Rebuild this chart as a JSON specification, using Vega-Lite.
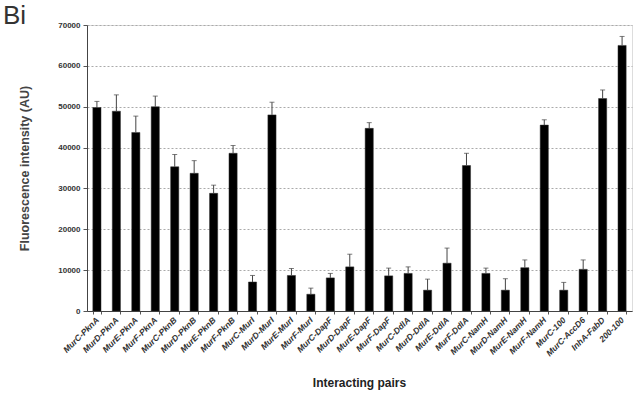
{
  "$schema": "https://vega.github.io/schema/vega-lite/v6.json",
  "autosize": {"type": "none"},
  "padding": {"left": 87, "top": 25, "right": 2, "bottom": 89},
  "width": 545,
  "height": 286,
  "background": "white",
  "title": {"text": "Bi", "anchor": "start", "frame": "group", "dx": -84, "dy": 34, "offset": 0, "fontSize": 26, "font": "Liberation Sans", "fontWeight": "normal", "color": "#333", "baseline": "bottom"},
  "data": {"values": [
    {"pair": "MurC-PknA", "value": 49800, "upper": 51300},
    {"pair": "MurD-PknA", "value": 48900, "upper": 52900},
    {"pair": "MurE-PknA", "value": 43700, "upper": 47700},
    {"pair": "MurF-PknA", "value": 50000, "upper": 52600},
    {"pair": "MurC-PknB", "value": 35300, "upper": 38300},
    {"pair": "MurD-PknB", "value": 33700, "upper": 36800},
    {"pair": "MurE-PknB", "value": 28800, "upper": 30800},
    {"pair": "MurF-PknB", "value": 38600, "upper": 40500},
    {"pair": "MurC-MurI", "value": 7100, "upper": 8700},
    {"pair": "MurD-MurI", "value": 48000, "upper": 51100},
    {"pair": "MurE-MurI", "value": 8700, "upper": 10400},
    {"pair": "MurF-MurI", "value": 4100, "upper": 5600},
    {"pair": "MurC-DapF", "value": 8100, "upper": 9200},
    {"pair": "MurD-DapF", "value": 10800, "upper": 13900},
    {"pair": "MurE-DapF", "value": 44700, "upper": 46100},
    {"pair": "MurF-DapF", "value": 8600, "upper": 10500},
    {"pair": "MurC-DdlA", "value": 9200, "upper": 10800},
    {"pair": "MurD-DdlA", "value": 5100, "upper": 7800},
    {"pair": "MurE-DdlA", "value": 11700, "upper": 15400},
    {"pair": "MurF-DdlA", "value": 35600, "upper": 38600},
    {"pair": "MurC-NamH", "value": 9200, "upper": 10500},
    {"pair": "MurD-NamH", "value": 5100, "upper": 7900},
    {"pair": "MurE-NamH", "value": 10600, "upper": 12500},
    {"pair": "MurF-NamH", "value": 45500, "upper": 46800},
    {"pair": "MurC-100", "value": 5100, "upper": 7000},
    {"pair": "MurC-AccD6", "value": 10200, "upper": 12500},
    {"pair": "InhA-FabD", "value": 52000, "upper": 54100},
    {"pair": "200-100", "value": 65000, "upper": 67200}
  ]},
  "encoding": {
    "x": {
      "field": "pair", "type": "nominal", "sort": null,
      "scale": {"paddingInner": 0.58, "paddingOuter": 0.3},
      "axis": {
        "title": "Interacting pairs", "titleFont": "Liberation Sans", "titleFontSize": 12, "titleFontWeight": "bold", "titleColor": "#222",
        "titleX": 272, "titleY": 66,
        "labelAngle": -45, "labelAlign": "right", "labelBaseline": "middle", "labelFont": "Liberation Sans", "labelFontSize": 8.5, "labelFontWeight": "bold", "labelFontStyle": "italic", "labelColor": "#333", "labelPadding": 4,
        "tickBand": "extent", "tickSize": 3, "tickColor": "#555", "domainColor": "#444", "grid": false
      }
    }
  },
  "layer": [
    {
      "mark": {"type": "bar", "color": "black", "stroke": "#333", "strokeWidth": 0.5},
      "encoding": {
        "y": {
          "field": "value", "type": "quantitative",
          "scale": {"domain": [0, 70000]},
          "axis": {
            "title": "Fluorescence intensity (AU)", "titleFont": "Liberation Sans", "titleFontSize": 12.5, "titleFontWeight": "bold", "titleColor": "#444",
            "titleX": -56, "titleY": 143,
            "values": [0, 10000, 20000, 30000, 40000, 50000, 60000, 70000], "format": "d",
            "labelFont": "Liberation Sans", "labelFontSize": 8, "labelFontWeight": "bold", "labelColor": "#333", "labelPadding": 3,
            "tickSize": 4, "tickColor": "#555", "domainColor": "#444",
            "grid": true, "gridColor": "#aaa", "gridDash": [2, 2], "gridWidth": 1
          }
        }
      }
    },
    {
      "mark": {"type": "rule", "color": "#444", "strokeWidth": 1},
      "encoding": {"y": {"field": "value", "type": "quantitative"}, "y2": {"field": "upper"}}
    },
    {
      "mark": {"type": "tick", "color": "#444", "thickness": 1, "size": 5},
      "encoding": {"y": {"field": "upper", "type": "quantitative"}}
    }
  ]
}
